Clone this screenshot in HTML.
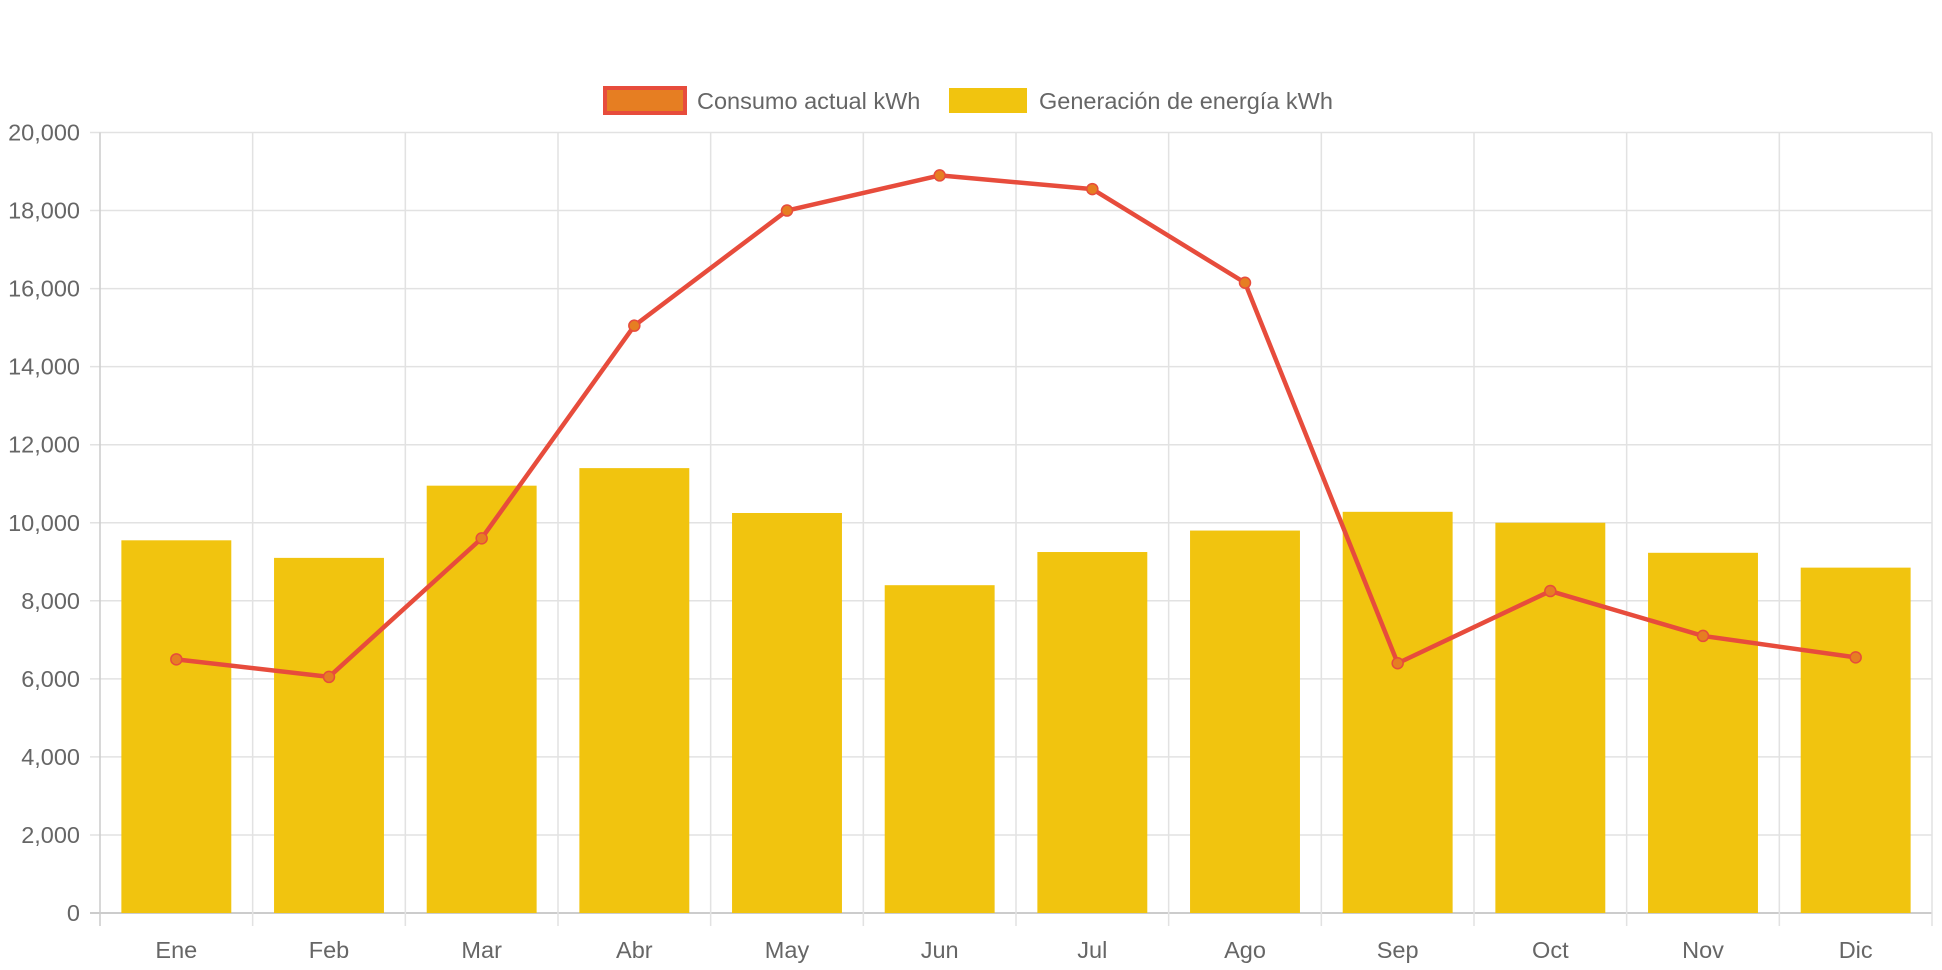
<!DOCTYPE html>
<html><head><meta charset="utf-8"><style>
html,body{margin:0;padding:0;background:#fff;}
svg{display:block;font-family:"Liberation Sans",Helvetica,Arial,sans-serif;}
</style></head><body>
<svg id="chart" width="1942" height="970">
<g id="legend">
 <g>
  <rect x="605" y="88" width="80" height="25" fill="#e67e22" stroke="#e74c3c" stroke-width="4"/>
  <text x="697" y="109" font-size="23.5" fill="#666">Consumo actual kWh</text>
 </g>
 <g>
  <rect x="949" y="88" width="78" height="25" fill="#f1c40f"/>
  <text x="1039" y="109" font-size="23.5" fill="#666">Generación de energía kWh</text>
 </g>
</g>
<g id="grid"></g><g id="bars"></g><g id="line"></g><g id="axes"></g>
</svg>
<script>
const categories=["Ene","Feb","Mar","Abr","May","Jun","Jul","Ago","Sep","Oct","Nov","Dic"];
const consumo=[6500,6050,9600,15050,18000,18900,18550,16150,6400,8250,7100,6550];
const generacion=[9550,9100,10950,11400,10250,8400,9250,9800,10280,10000,9230,8850];
const yTicks=[0,2000,4000,6000,8000,10000,12000,14000,16000,18000,20000];
const yTickLabels=["0","2,000","4,000","6,000","8,000","10,000","12,000","14,000","16,000","18,000","20,000"];
const L=100,R=1932,T=132.5,B=913,YMAX=20000;
const ns="http://www.w3.org/2000/svg";
const cw=(R-L)/categories.length;
function x(i){return L+cw*(i+0.5);}
function y(v){return B-(v/YMAX)*(B-T);}
function mk(tag,attrs,parent){const e=document.createElementNS(ns,tag);for(const k in attrs)e.setAttribute(k,attrs[k]);document.getElementById(parent).appendChild(e);return e;}
yTicks.forEach((v,i)=>{
 const g=mk("line",{x1:L-10,x2:R,y1:y(v),y2:y(v),stroke:v===0?"#ccc":"#e2e2e2","stroke-width":v===0?2:1.5},"grid");
 
 
 const t=mk("text",{x:L-20,y:y(v)+8,"text-anchor":"end","font-size":23.5,fill:"#666"},"axes");
 t.textContent=yTickLabels[i];
 
 
});
for(let i=0;i<=categories.length;i++){
 const g=mk("line",{x1:L+cw*i,x2:L+cw*i,y1:T,y2:B+13,stroke:i===0?"#ccc":"#e2e2e2","stroke-width":1.5},"grid");
 
 
}
categories.forEach((c,i)=>{
 const bw=cw*0.72;
 const r=mk("rect",{x:x(i)-bw/2,y:y(generacion[i]),width:bw,height:B-y(generacion[i]),fill:"#f1c40f"},"bars");
 
 
 const t=mk("text",{x:x(i),y:958,"text-anchor":"middle","font-size":23.5,fill:"#666"},"axes");
 t.textContent=c;
 
 
});
const pl=mk("polyline",{points:consumo.map((v,i)=>x(i)+","+y(v)).join(" "),fill:"none",stroke:"#e74c3c","stroke-width":4.5,"stroke-linejoin":"round"},"line");


consumo.forEach((v,i)=>{
 const c=mk("circle",{cx:x(i),cy:y(v),r:5.5,fill:"#e67e22",stroke:"#e74c3c","stroke-width":1.5},"line");
 
 
});
</script>
</body></html>
